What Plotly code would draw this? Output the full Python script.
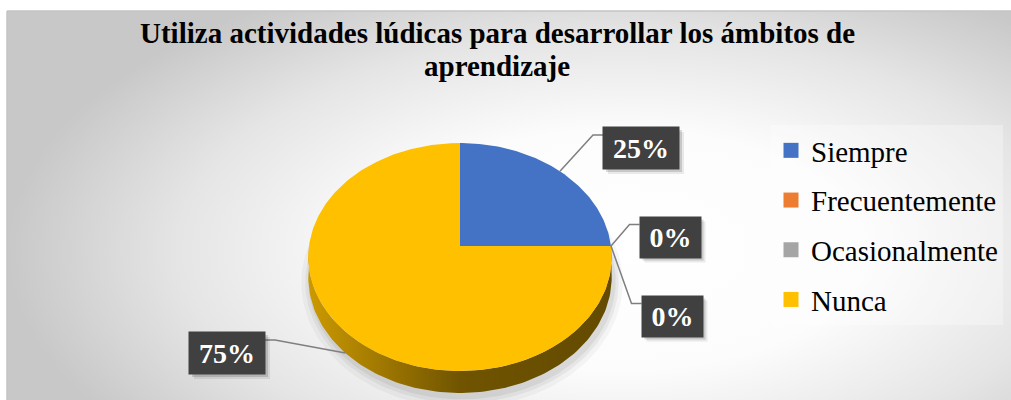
import numpy as np
import plotly.graph_objects as go

# ---------------- data ----------------
categories = ["Siempre", "Frecuentemente", "Ocasionalmente", "Nunca"]
values = [25, 0, 0, 75]
pct_labels = ["25%", "0%", "0%", "75%"]
colors = ["#4472C4", "#ED7D31", "#A5A5A5", "#FFC000"]
title_lines = ["Utiliza actividades lúdicas para desarrollar los ámbitos de", "aprendizaje"]

# ---------------- layout constants (pixel space) ----------------
W, H = 1011, 400
L0, T0 = 7, 11
CX, CY = 460.0, 246.0          # pie apex
A, B, K = 151.0, 112.9, 0.0965  # perspective ellipse params
DEPTH = 19.9
# label boxes: centre x, centre y, width, height
label_boxes = [(641, 148, 76, 42), (670, 237, 61, 41), (672, 316, 61, 41), (227, 353, 76, 42)]
FONT = "Liberation Serif"


def proj(theta_deg, drop=0.0):
    t = np.radians(theta_deg)
    w = 1 + K * np.sin(t)
    return CX + A * np.cos(t) / w, CY - B * np.sin(t) / w + drop / w


def shade(hexc, f):
    h = hexc.lstrip("#")
    r, g, b = (int(h[i:i + 2], 16) for i in (0, 2, 4))
    return "rgb(%d,%d,%d)" % (r * f, g * f, b * f)


fig = go.Figure()

# background with radial gradient (bbox extends beyond view; clipped)
fig.add_trace(go.Scatter(
    x=[L0, 1233, 1233, L0, L0], y=[-50, -50, 550, 550, -50],
    mode="lines", line=dict(width=0), fill="toself",
    fillgradient=dict(type="radial", colorscale=[[0, "#ffffff"], [0.4, "#fcfcfc"],
                                                 [0.72, "#e5e5e5"], [1, "#c8c8c8"]]),
    hoverinfo="skip", showlegend=False))

total = float(sum(values))
angles = []
cur = 90.0
for v in values:
    a0 = cur
    a1 = cur - 360.0 * v / total
    angles.append((a0, a1))
    cur = a1

# soft shadow under pie
for grow, alpha in [(9, 0.035), (5, 0.05), (2, 0.06)]:
    th = np.linspace(0, 360, 241)
    px, py = proj(th, DEPTH)
    sx = CX + (px - CX) * (1 + grow / A) + 2
    sy = (CY + 12) + (py - (CY + 12)) * (1 + grow / B) + 4
    fig.add_trace(go.Scatter(x=sx, y=sy, mode="lines", line=dict(width=0), fill="toself",
                             fillcolor="rgba(0,0,0,%g)" % alpha, hoverinfo="skip", showlegend=False))

# rims (front-facing side of each slice)
for i, (a0, a1) in enumerate(angles):
    if values[i] == 0:
        continue
    for n in (-1, 0, 1):
        lo = max(a1, -180 + 360 * n)
        hi = min(a0, 0 + 360 * n)
        if lo < hi:
            th = np.linspace(hi, lo, 120)
            tx, ty = proj(th)
            bx, by = proj(th[::-1], DEPTH)
            fig.add_trace(go.Scatter(
                x=np.concatenate([tx, bx, tx[:1]]), y=np.concatenate([ty, by, ty[:1]]),
                mode="lines", line=dict(width=0), fill="toself",
                fillgradient=dict(type="horizontal", colorscale=[
                    [0, shade(colors[i], 0.80)], [0.25, shade(colors[i], 0.62)],
                    [0.5, shade(colors[i], 0.44)], [1, shade(colors[i], 0.39)]]),
                hoverinfo="skip", showlegend=False))

# top faces
for i, (a0, a1) in enumerate(angles):
    if values[i] == 0:
        continue
    th = np.linspace(a0, a1, max(int(abs(a0 - a1)) + 2, 3))
    tx, ty = proj(th)
    fig.add_trace(go.Scatter(
        x=np.concatenate([[CX], tx, [CX]]), y=np.concatenate([[CY], ty, [CY]]),
        mode="lines", line=dict(width=0), fill="toself", fillcolor=colors[i],
        hoverinfo="skip", showlegend=False, name=categories[i]))

# leader lines + labels
annotations = []
shapes = []
for i, (a0, a1) in enumerate(angles):
    m = (a0 + a1) / 2.0
    drop = DEPTH if np.sin(np.radians(m)) < -1e-9 else 0.0
    sx, sy = proj(m, drop)
    lx, ly, bw, bh = label_boxes[i]
    yline = ly - bh / 2 + 8
    if lx > sx:
        ex = lx - bw / 2
        elx = ex - 10
    else:
        ex = lx + bw / 2
        elx = ex + 10
    fig.add_trace(go.Scatter(x=[sx, elx, ex], y=[sy, yline, yline], mode="lines",
                             line=dict(color="#7f7f7f", width=1.5),
                             hoverinfo="skip", showlegend=False))
    for off, al in [(5, 0.08), (3, 0.14)]:
        shapes.append(dict(type="rect", xref="x", yref="y", layer="above",
                           x0=lx - bw / 2 + off, x1=lx + bw / 2 + off,
                           y0=ly - bh / 2 + off, y1=ly + bh / 2 + off,
                           fillcolor="rgba(0,0,0,%g)" % al, line=dict(width=0)))
    annotations.append(dict(x=lx, y=ly, xref="x", yref="y", text="<b>%s</b>" % pct_labels[i],
                            showarrow=False, width=bw, height=bh, borderpad=0, bgcolor="#404040",
                            font=dict(family=FONT, size=28, color="#ffffff")))

# legend entries
for i, c in enumerate(categories):
    fig.add_trace(go.Scatter(x=[None], y=[None], mode="markers", name=c, legendgroup=c,
                             marker=dict(symbol="square", size=15, color=colors[i]),
                             showlegend=True))

# title
for j, (t, yy) in enumerate(zip(title_lines, [33, 66])):
    annotations.append(dict(x=497, y=yy, xref="x", yref="y", text="<b>%s</b>" % t, showarrow=False,
                            font=dict(family=FONT, size=29, color="#000000")))

shapes += [
    dict(type="line", xref="paper", yref="paper", x0=0, x1=0, y0=0, y1=1,
         line=dict(color="#c4c4c4", width=1.5)),
    dict(type="line", xref="paper", yref="paper", x0=0, x1=1, y0=1, y1=1,
         line=dict(color="#c4c4c4", width=1.5)),
]

fig.update_layout(
    width=W, height=H,
    margin=dict(l=L0, r=0, t=T0, b=0),
    paper_bgcolor="#ffffff", plot_bgcolor="#ffffff",
    xaxis=dict(range=[L0, W], visible=False, fixedrange=True),
    yaxis=dict(range=[H, T0], visible=False, fixedrange=True),
    showlegend=True,
    legend=dict(x=(771 - L0) / (W - L0), xanchor="left", y=(H - 125) / (H - T0), yanchor="top",
                bgcolor="rgba(255,255,255,0.3)", borderwidth=0,
                font=dict(family=FONT, size=29, color="#000000"),
                traceorder="grouped", tracegroupgap=9, itemsizing="trace"),
    annotations=annotations,
    shapes=shapes,
)

fig.write_html("out.html", config={"displayModeBar": False},
               post_script="document.body.style.margin='0';document.body.style.overflow='hidden';")
